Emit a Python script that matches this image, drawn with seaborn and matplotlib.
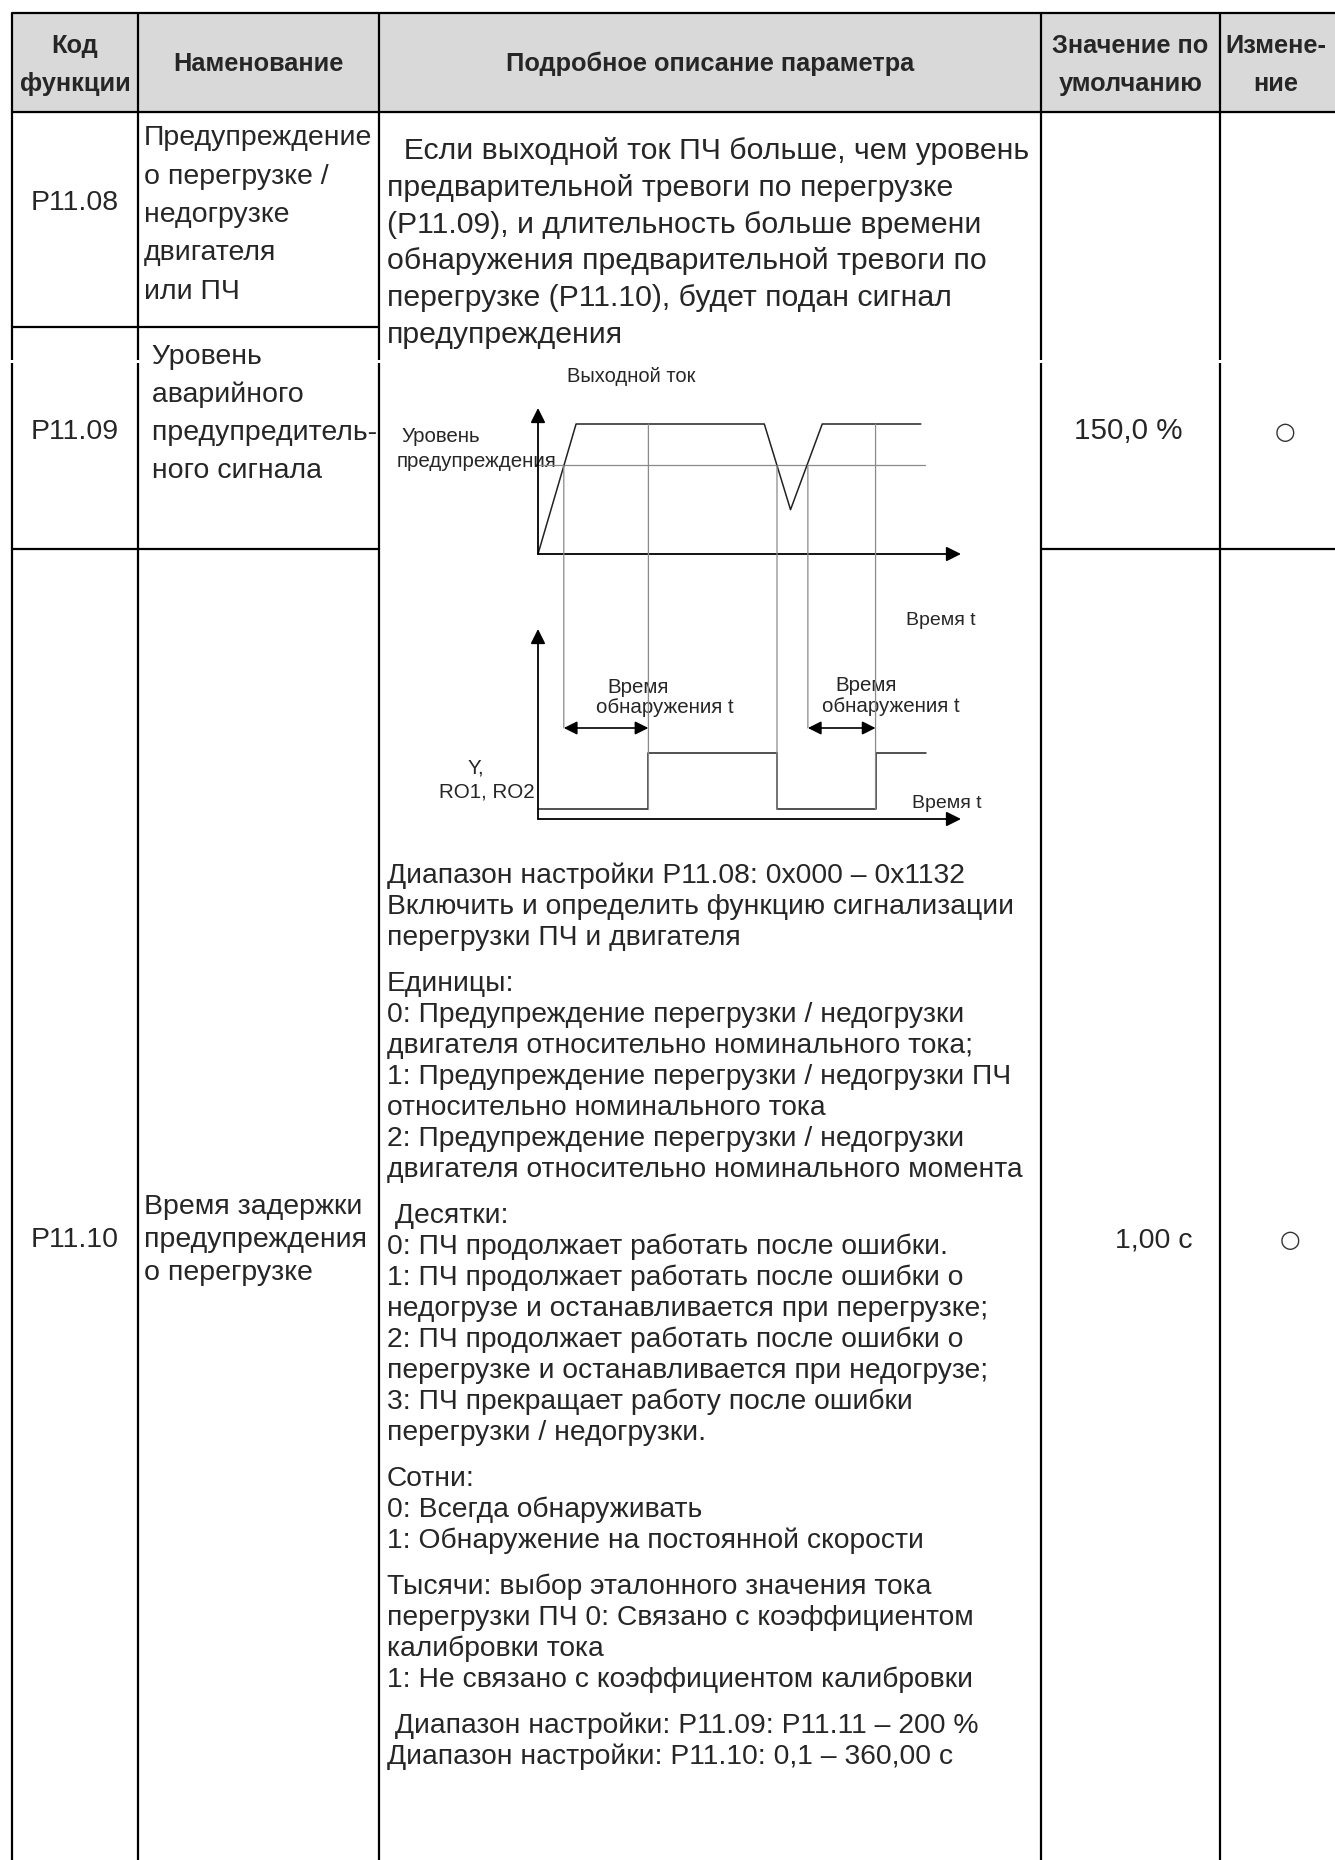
import numpy as np
import pandas as pd
import seaborn as sns
import matplotlib.pyplot as plt
from matplotlib.patches import Rectangle, ConnectionPatch

# Table content
header_texts = ['Код\nфункции', 'Наменование', 'Подробное описание параметра',
                'Значение по\nумолчанию', 'Измене-\nние']
codes = ['P11.08', 'P11.09', 'P11.10']
names = [['Предупреждение', 'о перегрузке /', 'недогрузке', 'двигателя', 'или ПЧ'],
         [' Уровень', ' аварийного', ' предупредитель-', ' ного сигнала'],
         ['Время задержки', 'предупреждения', 'о перегрузке']]
defaults = ['150,0 %', '1,00 с']
changes = ['○', '○']

intro_lines = ['  Если выходной ток ПЧ больше, чем уровень',
               'предварительной тревоги по перегрузке',
               '(P11.09), и длительность больше времени',
               'обнаружения предварительной тревоги по',
               'перегрузке (P11.10), будет подан сигнал',
               'предупреждения']
detail_lines = ['Диапазон настройки P11.08: 0x000 – 0x1132',
                'Включить и определить функцию сигнализации',
                'перегрузки ПЧ и двигателя',
                'Единицы:',
                '0: Предупреждение перегрузки / недогрузки',
                'двигателя относительно номинального тока;',
                '1: Предупреждение перегрузки / недогрузки ПЧ',
                'относительно номинального тока',
                '2: Предупреждение перегрузки / недогрузки',
                'двигателя относительно номинального момента',
                ' Десятки:',
                '0: ПЧ продолжает работать после ошибки.',
                '1: ПЧ продолжает работать после ошибки о',
                'недогрузе и останавливается при перегрузке;',
                '2: ПЧ продолжает работать после ошибки о',
                'перегрузке и останавливается при недогрузе;',
                '3: ПЧ прекращает работу после ошибки',
                'перегрузки / недогрузки.',
                'Сотни:',
                '0: Всегда обнаруживать',
                '1: Обнаружение на постоянной скорости',
                'Тысячи: выбор эталонного значения тока',
                'перегрузки ПЧ 0: Связано с коэффициентом',
                'калибровки тока',
                '1: Не связано с коэффициентом калибровки',
                ' Диапазон настройки: P11.09: P11.11 – 200 %',
                'Диапазон настройки: P11.10: 0,1 – 360,00 с']
# paragraph break after these line indexes
para_breaks = [2, 9, 17, 20, 24]

# Diagram data: output current (% of nominal) vs time
cur_t = [0, 9.0, 53.5, 59.7, 67.2, 90.5]
cur_i = [0, 220, 220, 75, 220, 220]
warn_level = 150
level_t = [0, 91.4]
# relay output Y / RO1, RO2
sig_t = [0, 26.1, 26.1, 56.5, 56.5, 79.8, 79.8, 91.8]
sig_v = [0, 0, 1, 1, 0, 0, 1, 1]
# moments of crossing the warning level and end of detection time
det_start = [6.1, 63.8]
det_end = [26.1, 79.8]
drop_t = [56.5]

W, H = 1335, 1860
sns.set_theme(style='white')
plt.rcParams['font.family'] = ['Liberation Sans', 'DejaVu Sans']

fig = plt.figure(figsize=(W / 100, H / 100), dpi=100)
ax = fig.add_axes([0, 0, 1, 1])
ax.set_xlim(0, W)
ax.set_ylim(H, 0)
ax.axis('off')

# table grid
xs = [12, 138, 379, 1041, 1220, 1345]
top, head_bot = 13, 112
row_lines = [327, 549]
gap = (360, 363)   # page break in the vertical rules
ax.add_patch(Rectangle((xs[0], top), W, head_bot - top, color='#d9d9d9', zorder=0))
lw = 1.6
ax.plot([xs[0], W], [top, top], color='black', lw=lw)
ax.plot([xs[0], W], [head_bot, head_bot], color='black', lw=lw)
for x in xs:
    ax.plot([x, x], [top, gap[0]], color='black', lw=lw, solid_capstyle='butt')
    ax.plot([x, x], [gap[1], H], color='black', lw=lw, solid_capstyle='butt')
ax.plot([xs[0], xs[2]], [row_lines[0], row_lines[0]], color='black', lw=lw)
ax.plot([xs[0], xs[2]], [row_lines[1], row_lines[1]], color='black', lw=lw)
ax.plot([xs[3], W], [row_lines[1], row_lines[1]], color='black', lw=lw)

# header
hfs = 18.3
hy = [46, 84]
for i, txt in enumerate(header_texts):
    cx = (xs[i] + xs[i + 1]) / 2
    if i == 4:
        cx = 1276
    parts = txt.split('\n')
    if len(parts) == 1:
        ax.text(cx, 64, parts[0], ha='center', va='center', fontsize=hfs, fontweight='bold')
    else:
        for p, y in zip(parts, hy):
            ax.text(cx, y, p, ha='center', va='center', fontsize=hfs, fontweight='bold')

fs = 20.5
code_y = [203, 432, 1240]
for c, y in zip(codes, code_y):
    ax.text(75, y, c, ha='center', va='center', fontsize=fs)

name_y0 = [138, 357, 1207]
name_step = [38.5, 38, 33]
for lines, y0, st in zip(names, name_y0, name_step):
    for k, ln in enumerate(lines):
        ax.text(144, y0 + k * st, ln, ha='left', va='center', fontsize=fs)

ax.text(1128, 431, defaults[0], ha='center', va='center', fontsize=21.3)
ax.text(1154, 1240, defaults[1], ha='center', va='center', fontsize=fs)
ax.text(1285, 432, changes[0], ha='center', va='center', fontsize=17,
        color='#333333', family=['DejaVu Sans'])
ax.text(1290, 1240, changes[1], ha='center', va='center', fontsize=17,
        color='#333333', family=['DejaVu Sans'])

# description text
for k, ln in enumerate(intro_lines):
    ax.text(387, 151 + k * 36.8, ln, ha='left', va='center', fontsize=21.8)
y = 876
for k, ln in enumerate(detail_lines):
    ax.text(387, y, ln, ha='left', va='center', fontsize=20.3)
    y += 31
    if k in para_breaks:
        y += 15

# diagram axes (pixel boxes -> figure fractions)
def box(x0, y_top, x1, y_bot):
    return [x0 / W, 1 - y_bot / H, (x1 - x0) / W, (y_bot - y_top) / H]

base_up, tip_up, top_px = 554, 408, 424
up_scale = (base_up - top_px) / 220
ax_up = fig.add_axes(box(538, tip_up, 961, base_up))
ax_up.set_xlim(0, 100)
ax_up.set_ylim(0, (base_up - tip_up) / up_scale)
ax_up.axis('off')

low_axis, low_zero, low_one, tip_low = 819, 809, 753, 629
low_scale = low_zero - low_one
ax_low = fig.add_axes(box(538, tip_low, 961, low_axis))
ax_low.set_xlim(0, 100)
ax_low.set_ylim(-(low_axis - low_zero) / low_scale, (low_zero - tip_low) / low_scale)
ax_low.axis('off')

line_col = '#222222'
grey = '#8a8a8a'
df_cur = pd.DataFrame({'t': cur_t, 'i': cur_i})
df_lvl = pd.DataFrame({'t': level_t, 'i': [warn_level] * len(level_t)})
df_sig = pd.DataFrame({'t': sig_t, 'v': sig_v})
sns.lineplot(data=df_lvl, x='t', y='i', ax=ax_up, color=grey, lw=0.9, sort=False, estimator=None)
sns.lineplot(data=df_cur, x='t', y='i', ax=ax_up, color=line_col, lw=1.1, sort=False, estimator=None)
sns.lineplot(data=df_sig, x='t', y='v', ax=ax_low, color=line_col, lw=1.1, sort=False, estimator=None)
for a in (ax_up, ax_low):
    a.set_xlabel('')
    a.set_ylabel('')
    for l in a.lines:
        l.set_clip_on(False)

arr = dict(arrowstyle='-|>', color='black', lw=1.3, mutation_scale=22, shrinkA=0, shrinkB=0)
y0u, y1u = ax_up.get_ylim()
ax_up.annotate('', xy=(0, y1u), xytext=(0, 0), arrowprops=arr, annotation_clip=False)
ax_up.annotate('', xy=(100, 0), xytext=(0, 0), arrowprops=arr, annotation_clip=False)
y0l, y1l = ax_low.get_ylim()
ax_low.annotate('', xy=(0, y1l), xytext=(0, y0l), arrowprops=arr, annotation_clip=False)
ax_low.annotate('', xy=(100, y0l), xytext=(0, y0l), arrowprops=arr, annotation_clip=False)

arrow_lvl = (low_zero - 728) / low_scale
dbl = dict(arrowstyle='<|-|>', color='black', lw=1.2, mutation_scale=20, shrinkA=0, shrinkB=0)
for s, e in zip(det_start, det_end):
    ax_low.annotate('', xy=(e, arrow_lvl), xytext=(s, arrow_lvl), arrowprops=dbl, annotation_clip=False)

def drop(t, v_up, v_low):
    cp = ConnectionPatch(xyA=(t, v_up), coordsA=ax_up.transData, xyB=(t, v_low),
                         coordsB=ax_low.transData, color=grey, lw=0.9)
    fig.add_artist(cp)

for s in det_start:
    drop(s, warn_level, arrow_lvl)
for e in det_end:
    drop(e, max(cur_i), 0)
for d in drop_t:
    drop(d, warn_level, 0)

# diagram labels
dfs = 14.8
ax.text(567, 377, 'Выходной ток', ha='left', va='center', fontsize=14.5)
ax.text(401, 436, 'Уровень', ha='left', va='center', fontsize=dfs)
ax.text(397, 461, 'предупреждения', ha='left', va='center', fontsize=dfs)
ax.text(906, 620, 'Время t', ha='left', va='center', fontsize=14)
ax.text(607, 687, 'Время', ha='left', va='center', fontsize=dfs)
ax.text(596, 707, 'обнаружения t', ha='left', va='center', fontsize=dfs)
ax.text(835, 685, 'Время', ha='left', va='center', fontsize=dfs)
ax.text(822, 706, 'обнаружения t', ha='left', va='center', fontsize=dfs)
ax.text(468, 768, 'Y,', ha='left', va='center', fontsize=dfs)
ax.text(439, 792, 'RO1, RO2', ha='left', va='center', fontsize=dfs)
ax.text(912, 803, 'Время t', ha='left', va='center', fontsize=14)

fig.savefig('out.png', dpi=100, facecolor='white')
